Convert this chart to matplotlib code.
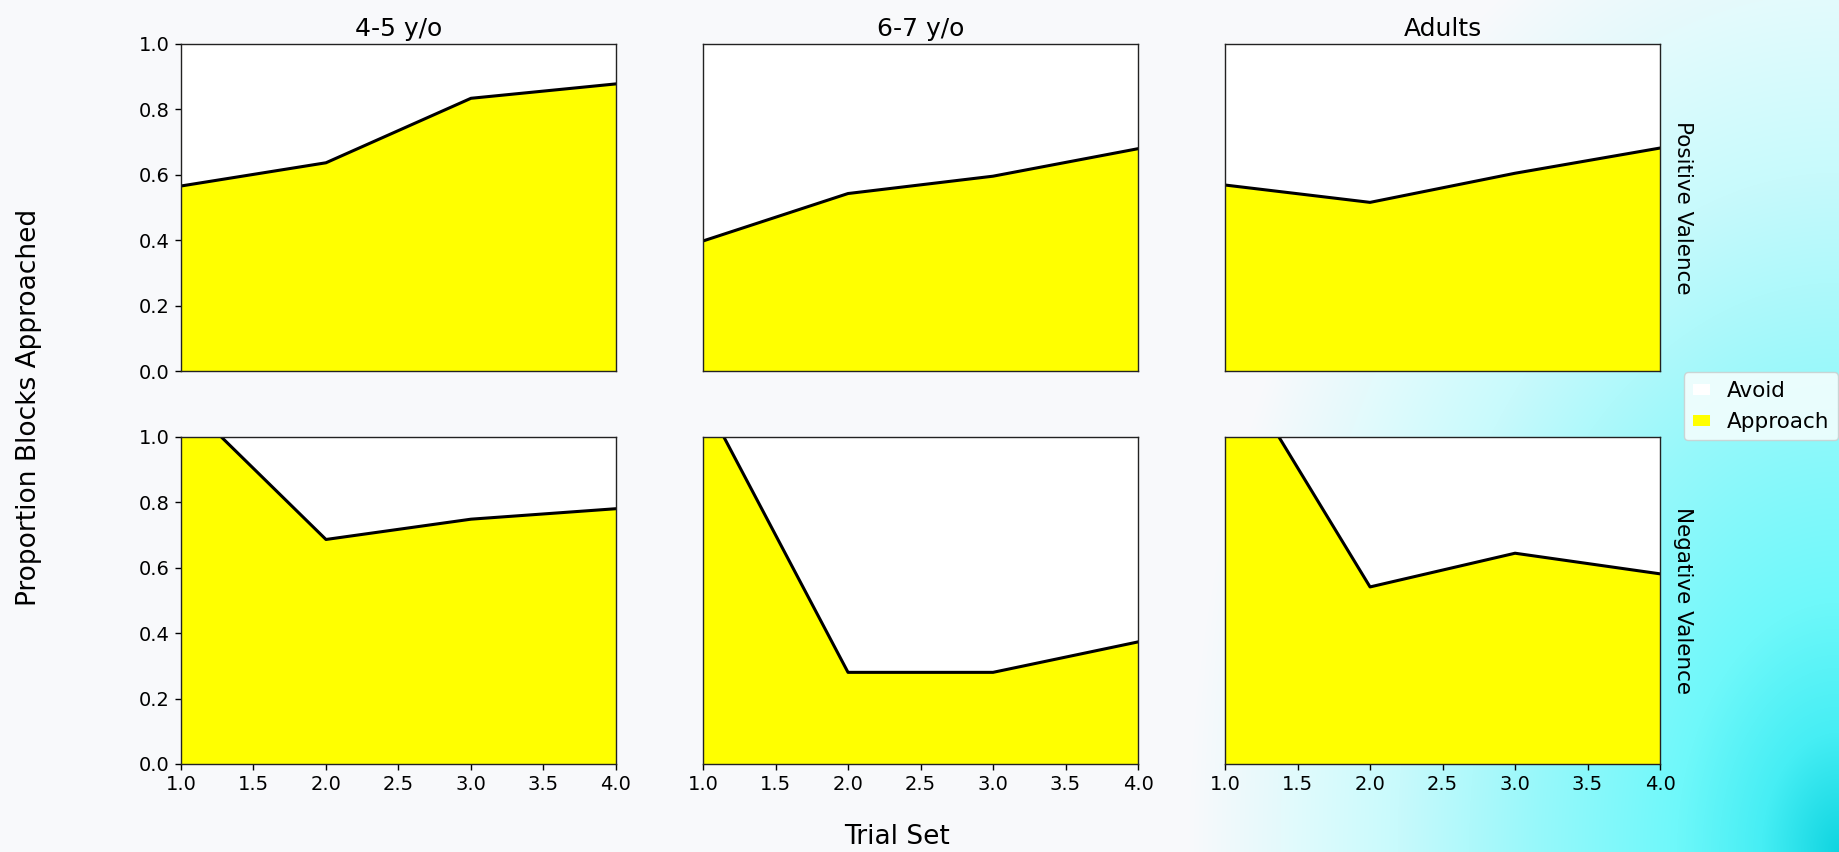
import numpy as np
import matplotlib
matplotlib.use("Agg")
import matplotlib.pyplot as plt
from matplotlib.patches import Patch

# trial sets on the x axis
trials = [1, 2, 3, 4]
ages = ["4-5 y/o", "6-7 y/o", "Adults"]
valences = ["Positive Valence", "Negative Valence"]

# proportion of blocks approached per trial set
pos_45 = [0.566, 0.637, 0.834, 0.878]
pos_67 = [0.398, 0.543, 0.596, 0.680]
pos_adult = [0.569, 0.516, 0.605, 0.682]
neg_45 = [1.12, 0.686, 0.748, 0.780]
neg_67 = [1.12, 0.280, 0.280, 0.373]
neg_adult = [1.27, 0.541, 0.644, 0.581]

approach = [[pos_45, pos_67, pos_adult],
            [neg_45, neg_67, neg_adult]]

W, H = 1839, 852
fig = plt.figure(figsize=(W / 100, H / 100), dpi=100)
fig.patch.set_facecolor("#f8f9fb")

# soft cyan glow in the lower right corner of the background
px, py = np.meshgrid(np.arange(W), np.arange(H))
d = np.sqrt(((W - px) / 650.0) ** 2 + ((H - py) / 1000.0) ** 2)
stops = [0.0, 0.12, 0.25, 0.46, 0.68, 0.86, 1.0]
reds = [15, 70, 110, 150, 200, 228, 248]
greens = [212, 238, 248, 248, 250, 250, 249]
blues = [224, 244, 250, 250, 252, 252, 251]
bg = np.dstack([np.interp(d, stops, reds),
                np.interp(d, stops, greens),
                np.interp(d, stops, blues)]) / 255.0
bg_ax = fig.add_axes([0, 0, 1, 1], zorder=-5)
bg_ax.imshow(bg, aspect="auto", interpolation="bilinear")
bg_ax.axis("off")

axes = fig.subplots(2, 3, sharex=True, sharey=True)
fig.subplots_adjust(left=0.0984, right=0.9027, bottom=0.1033, top=0.9484,
                    wspace=0.2, hspace=0.2)

for r in range(2):
    for c in range(3):
        ax = axes[r][c]
        y = np.array(approach[r][c])
        ax.set_facecolor("white")
        ax.fill_between(trials, 0, y, color="yellow", linewidth=0)
        ax.fill_between(trials, y, 1, color="white", linewidth=0)
        ax.plot(trials, y, color="black", linewidth=2.2)
        ax.set_xlim(1, 4)
        ax.set_ylim(0, 1)
        for s in ax.spines.values():
            s.set_linewidth(1.0)
            s.set_color("#222222")
        ax.tick_params(labelsize=14, length=4.5, width=1.0)
        if r == 0:
            ax.set_title(ages[c], fontsize=18)
            ax.tick_params(axis="x", length=0)
        if c > 0:
            ax.tick_params(axis="y", length=0)
        if c == 2:
            ax.text(1.03, 0.5, valences[r], transform=ax.transAxes,
                    rotation=270, ha="left", va="center", fontsize=15.5)

axes[0][0].set_yticks([0.0, 0.2, 0.4, 0.6, 0.8, 1.0])
axes[1][0].set_xticks([1.0, 1.5, 2.0, 2.5, 3.0, 3.5, 4.0])

fig.text(0.0158, 0.522, "Proportion Blocks Approached", rotation=90,
         ha="center", va="center", fontsize=19)
fig.text(0.4877, 0.0176, "Trial Set", ha="center", va="center", fontsize=19)

handles = [Patch(facecolor="white", edgecolor="none", label="Avoid"),
           Patch(facecolor="yellow", edgecolor="none", label="Approach")]
leg = fig.legend(handles=handles, loc="center right",
                 bbox_to_anchor=(0.9995, 0.523), fontsize=15.5,
                 handlelength=0.8, handleheight=0.4, borderaxespad=0.0,
                 framealpha=0.8, edgecolor="#cccccc", fancybox=True)

fig.savefig("out.png", dpi=100, facecolor=fig.get_facecolor())
